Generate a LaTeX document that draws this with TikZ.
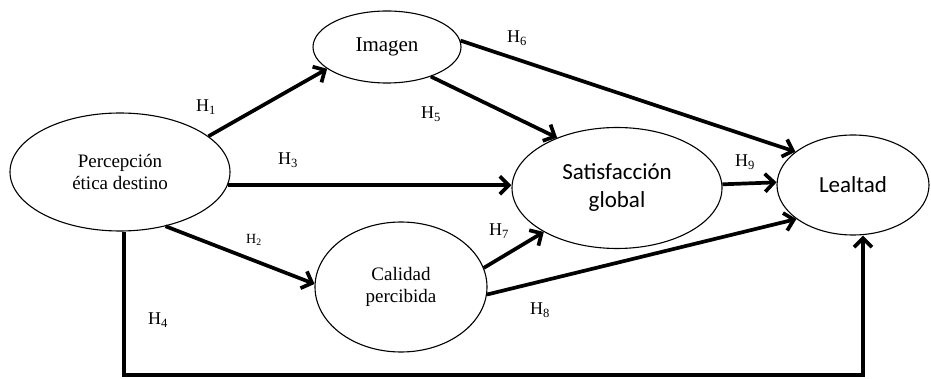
\documentclass[tikz,border=0pt]{standalone}
\usepackage{fontspec}
\setmainfont{Liberation Serif}
\newfontfamily\calib{Carlito}
\usetikzlibrary{shapes.geometric,arrows.meta}
\begin{document}
\begin{tikzpicture}[x=1pt,y=-1pt,
  oval/.style={ellipse,draw,line width=1.1pt,inner sep=0pt,align=center,fill=white},
  serifbig/.style={font=\fontsize{19}{22}\selectfont},
  serifimg/.style={font=\fontsize{21}{24}\selectfont},
  calbig/.style={font=\calib\fontsize{23}{28}\selectfont},
  arr/.style={line width=3.7pt,-{Straight Barb[length=9pt,width=18pt]}},
  hlab/.style={font=\fontsize{18}{20}\selectfont,inner sep=0pt},
  hsmall/.style={font=\fontsize{14}{16}\selectfont,inner sep=0pt}]
\useasboundingbox[fill=white] (0,0) rectangle (931,379);
% nodes
\node[oval,serifbig,minimum width=220pt,minimum height=118pt] (perc) at (120,172) {Percepción\\ética destino};
\node[oval,serifimg,minimum width=148pt,minimum height=72pt] (img) at (387,47) {Imagen};
\node[oval,calbig,minimum width=210pt,minimum height=121pt] (sat) at (617,188) {Satisfacción\\global};
\node[oval,calbig,minimum width=152pt,minimum height=100pt] (leal) at (853,185) {Lealtad};
\node[oval,serifbig,minimum width=172pt,minimum height=130pt] (cal) at (401,287) {Calidad\\percibida};
% corner point of H4 path
\coordinate (br) at (863,375);
% connectors
\draw[arr] (perc.22) -- (img.200);
\draw[arr] (perc.-7) -- (perc.-7 -| sat.west);
\draw[arr] (perc.-50) -- (cal.178);
\draw[arr] (perc.-86) |- (br) -- (br |- leal.south);
\draw[arr] (img.-34) -- (sat.140);
\draw[arr] (img.5) -- (leal.150);
\draw[arr] (cal.13) -- (sat.211);
\draw[arr] (cal.-5) -- (leal.211);
\draw[arr] (sat.2) -- (leal.178);
% labels
\node[hlab] (h1) at (206,107) {H\textsubscript{1}};
\node[hsmall] (h2) at (254,240) {H\textsubscript{2}};
\node[hlab] (h3) at (288,160) {H\textsubscript{3}};
\node[hlab] (h4) at (158,320) {H\textsubscript{4}};
\node[hlab] (h5) at (431,114) {H\textsubscript{5}};
\node[hlab] (h6) at (517,38) {H\textsubscript{6}};
\node[hlab] (h7) at (499,231) {H\textsubscript{7}};
\node[hlab] (h8) at (540,310) {H\textsubscript{8}};
\node[hlab] (h9) at (745,162) {H\textsubscript{9}};
\end{tikzpicture}
\end{document}
